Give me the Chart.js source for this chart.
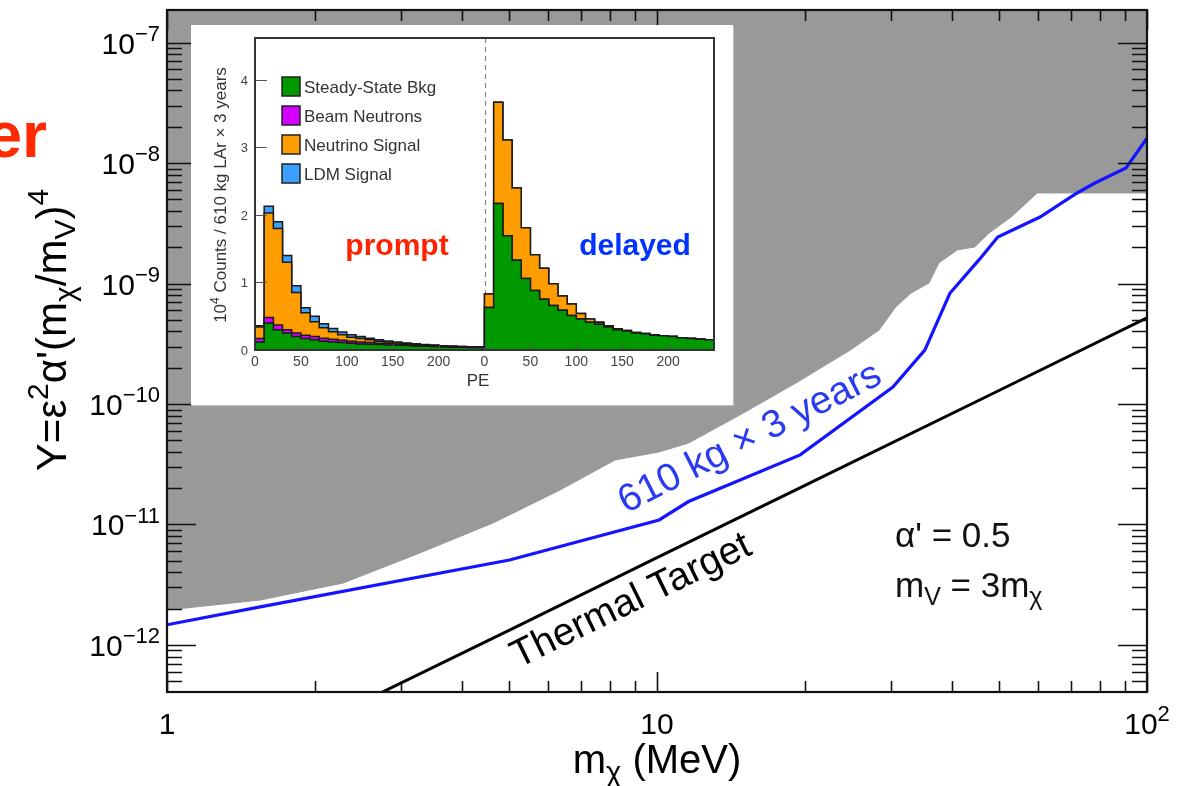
<!DOCTYPE html>
<html>
<head>
<meta charset="utf-8">
<script src="https://cdn.jsdelivr.net/npm/chart.js@4.4.1/dist/chart.umd.min.js"></script>
<style>
  html, body { margin: 0; padding: 0; background: #fff; }
  #wrap { position: relative; width: 1179px; height: 786px; overflow: hidden; }
  #main { position: absolute; left: 0; top: 0; }
  #inset { position: absolute; left: 191px; top: 25px; background: #fff; box-shadow: 1px 1px 1px #bbb; }
</style>
</head>
<body>
<div id="wrap">
  <canvas id="main" width="1179" height="786"></canvas>
  <canvas id="inset" width="542" height="380"></canvas>
</div>
<script>
const FONT = '"Liberation Sans", Arial, Helvetica, sans-serif';

// ---- main plot data (m_chi in MeV, Y) ----
// lower edge of the grey excluded region
const excludedMass = [1, 1.55, 2.29, 3.28, 4.63, 6.34, 8.21, 10.1, 11.6, 15.0, 19.2, 24.8, 28.4, 30.7, 33.0, 35.9, 37.6, 41.0, 44.5, 47.6, 52.8, 59.7, 100];
const excludedY = [1.95e-12, 2.36e-12, 3.27e-12, 5.8e-12, 1.03e-11, 1.93e-11, 3.43e-11, 4.0e-11, 4.74e-11, 8.4e-11, 1.49e-10, 2.8e-10, 4.11e-10, 6.38e-10, 8.34e-10, 1.01e-9, 1.48e-9, 1.9e-9, 2.01e-9, 2.62e-9, 3.56e-9, 5.64e-9, 5.64e-9];

// 610 kg x 3 years sensitivity
const reachMass = [1, 1.55, 5.0, 10.1, 11.6, 19.6, 30.3, 35.2, 39.6, 45.4, 49.6, 60.5, 72, 78.3, 90.6, 100];
const reachY = [1.47e-12, 2.07e-12, 5.07e-12, 1.09e-11, 1.55e-11, 3.78e-11, 1.38e-10, 2.8e-10, 8.3e-10, 1.57e-9, 2.43e-9, 3.56e-9, 5.64e-9, 6.82e-9, 9.1e-9, 1.61e-8];

// thermal relic target
const thermalMass = [2.5, 5, 10, 20, 50, 100];
const thermalY = [3.36e-13, 1.33e-12, 5.3e-12, 2.1e-11, 1.3e-10, 5.18e-10];

const xTickValues = [1, 10, 100];
const xTickLabels = ['1', '10', '10^2'];
const yTickValues = [1e-12, 1e-11, 1e-10, 1e-9, 1e-8, 1e-7];
const yTickLabels = ['10^-12', '10^-11', '10^-10', '10^-9', '10^-8', '10^-7'];

// ---- inset histogram (10^4 counts per 10 PE bin) ----
const peLowEdges = [0, 10, 20, 30, 40, 50, 60, 70, 80, 90, 100, 110, 120, 130, 140, 150, 160, 170, 180, 190, 200, 210, 220, 230, 240];
const promptSteady = [0.12, 0.40, 0.30, 0.25, 0.20, 0.17, 0.15, 0.13, 0.12, 0.11, 0.10, 0.09, 0.085, 0.08, 0.075, 0.07, 0.065, 0.06, 0.055, 0.05, 0.045, 0.042, 0.04, 0.038, 0.035];
const promptBeam = [0.05, 0.08, 0.07, 0.05, 0.05, 0.05, 0.05, 0.045, 0.04, 0.035, 0.03, 0.03, 0.025, 0.02, 0.02, 0.015, 0.015, 0.01, 0.01, 0.01, 0.008, 0.007, 0.006, 0.005, 0.005];
const promptNeutrino = [0.17, 1.55, 1.43, 1.00, 0.60, 0.33, 0.22, 0.155, 0.11, 0.08, 0.06, 0.05, 0.04, 0.03, 0.025, 0.02, 0.015, 0.012, 0.01, 0.008, 0.006, 0.005, 0.004, 0.003, 0.003];
const promptLdm = [0.02, 0.10, 0.10, 0.10, 0.10, 0.075, 0.08, 0.06, 0.05, 0.04, 0.035, 0.03, 0.025, 0.02, 0.015, 0.015, 0.01, 0.01, 0.008, 0.006, 0.005, 0.004, 0.003, 0.003, 0.002];
const delayedSteady = [0.63, 2.17, 1.69, 1.33, 1.06, 0.88, 0.75, 0.66, 0.59, 0.51, 0.46, 0.41, 0.38, 0.34, 0.30, 0.28, 0.25, 0.24, 0.22, 0.21, 0.20, 0.18, 0.17, 0.16, 0.15];
const delayedBeam = [0, 0, 0, 0, 0, 0, 0, 0, 0, 0, 0, 0, 0, 0, 0, 0, 0, 0, 0, 0, 0, 0, 0, 0, 0];
const delayedNeutrino = [0.20, 1.50, 1.42, 1.07, 0.75, 0.53, 0.46, 0.32, 0.21, 0.17, 0.08, 0.05, 0.03, 0.02, 0.015, 0.01, 0.01, 0.005, 0.005, 0, 0, 0, 0, 0, 0];
const delayedLdm = [0, 0, 0, 0, 0, 0, 0, 0, 0, 0, 0, 0, 0, 0, 0, 0, 0, 0, 0, 0, 0, 0, 0, 0, 0];
const insetTickValuesX = [0, 50, 100, 150, 200, 250, 300, 350, 400, 450];
const insetTickLabelsX = ['0', '50', '100', '150', '200', '0', '50', '100', '150', '200'];
const insetTickValuesY = [0, 1, 2, 3, 4];
const legendLabels = ['Steady-State Bkg', 'Beam Neutrons', 'Neutrino Signal', 'LDM Signal'];
const legendColors = ['#009a00', '#d400ff', '#ff9c00', '#3a9fff'];

// draw a string made of normal / sup / sub pieces
function drawRich(ctx, parts, x, y, opt) {
  const size = opt.size, weight = opt.weight || 'normal';
  const items = parts.map(([t, k]) => {
    const s = k === 'n' ? size : Math.round(size * 0.72);
    ctx.font = `${weight} ${s}px ${FONT}`;
    return { t, k, s, w: ctx.measureText(t).width };
  });
  const total = items.reduce((acc, it) => acc + it.w, 0);
  let cx = opt.align === 'center' ? x - total / 2 : opt.align === 'right' ? x - total : x;
  ctx.fillStyle = opt.color || '#000';
  ctx.textAlign = 'left';
  ctx.textBaseline = 'alphabetic';
  items.forEach(it => {
    ctx.font = `${weight} ${it.s}px ${FONT}`;
    const dy = it.k === 'sup' ? -size * 0.42 : it.k === 'sub' ? size * 0.22 : 0;
    ctx.fillText(it.t, cx, y + dy);
    cx += it.w;
  });
}

function tickParts(label) {
  const [base, exp] = label.split('^');
  return exp ? [[base, 'n'], [exp.replace('-', '\u2212'), 'sup']] : [[base, 'n']];
}

function rotatedRich(ctx, parts, x, y, deg, opt) {
  ctx.save();
  ctx.translate(x, y);
  ctx.rotate(deg * Math.PI / 180);
  drawRich(ctx, parts, 0, 0, opt);
  ctx.restore();
}

const toPoints = (xs, ys) => xs.map((v, i) => ({ x: v, y: ys[i] }));

const rootAxes = {
  id: 'rootAxes',
  afterDatasetsDraw(chart) {
    const { ctx, chartArea: a, scales: { x, y } } = chart;
    ctx.save();
    ctx.strokeStyle = '#111';
    ctx.lineWidth = 1.6;
    ctx.beginPath();
    for (let e = 0; e <= 2; e++) {
      for (let k = 1; k <= 9; k++) {
        const v = k * Math.pow(10, e);
        if (v > x.max * 1.0001) break;
        const px = Math.round(x.getPixelForValue(v)) + 0.5;
        const len = k === 1 ? 20 : 11;
        ctx.moveTo(px, a.bottom); ctx.lineTo(px, a.bottom - len);
        ctx.moveTo(px, a.top); ctx.lineTo(px, a.top + len);
      }
    }
    for (let e = -13; e <= -7; e++) {
      for (let k = 1; k <= 9; k++) {
        const v = k * Math.pow(10, e);
        if (v < y.min || v > y.max) continue;
        const py = Math.round(y.getPixelForValue(v)) + 0.5;
        const len = k === 1 ? 29 : 15;
        ctx.moveTo(a.left, py); ctx.lineTo(a.left + len, py);
        ctx.moveTo(a.right, py); ctx.lineTo(a.right - len, py);
      }
    }
    ctx.stroke();
    ctx.lineWidth = 2.2;
    ctx.strokeRect(a.left, a.top, a.right - a.left, a.bottom - a.top);
    ctx.restore();
  },
  afterDraw(chart) {
    const { ctx, chartArea: a, scales: { x, y } } = chart;
    ctx.save();
    // tick labels
    xTickValues.forEach((v, i) => {
      drawRich(ctx, tickParts(xTickLabels[i]), x.getPixelForValue(v), a.bottom + 42, { size: 30, align: 'center' });
    });
    yTickValues.forEach((v, i) => {
      drawRich(ctx, tickParts(yTickLabels[i]), a.left - 7, y.getPixelForValue(v) + 11, { size: 30, align: 'right' });
    });
    // axis titles
    drawRich(ctx, [['m', 'n'], ['\u03c7', 'sub'], [' (MeV)', 'n']], 657, 773, { size: 40, align: 'center' });
    rotatedRich(ctx, [['Y=\u03b5', 'n'], ['2', 'sup'], ['\u03b1\'(m', 'n'], ['\u03c7', 'sub'], ['/m', 'n'], ['V', 'sub'], [')', 'n'], ['4', 'sup']],
      66, 330, -90, { size: 42, align: 'center' });
    // curve labels
    rotatedRich(ctx, [['610 kg \u00d7 3 years', 'n']], 755, 448, -27, { size: 39, align: 'center', color: '#2a3af0' });
    rotatedRich(ctx, [['Thermal Target', 'n']], 636, 611, -26, { size: 39, align: 'center', color: '#000' });
    // model parameters
    drawRich(ctx, [['\u03b1\' = 0.5', 'n']], 895, 547, { size: 35, align: 'left', color: '#111' });
    drawRich(ctx, [['m', 'n'], ['V', 'sub'], [' = 3m', 'n'], ['\u03c7', 'sub']], 895, 597, { size: 35, align: 'left', color: '#111' });
    // clipped slide text at the left edge
    drawRich(ctx, [['er', 'n']], 47, 157, { size: 64, align: 'right', weight: 'bold', color: '#ff2a00' });
    ctx.restore();
  }
};

new Chart(document.getElementById('main'), {
  type: 'line',
  data: {
    datasets: [
      { label: '610 kg x 3 years', data: toPoints(reachMass, reachY), borderColor: '#1414ff', borderWidth: 3.2, fill: false, order: 1 },
      { label: 'Thermal Target', data: toPoints(thermalMass, thermalY), borderColor: '#000', borderWidth: 3, fill: false, order: 2 },
      { label: 'Excluded', data: toPoints(excludedMass, excludedY), borderColor: '#999999', borderWidth: 1, backgroundColor: '#999999', fill: 'end', order: 3 }
    ]
  },
  options: {
    responsive: false,
    animation: false,
    layout: { padding: { left: 167, top: 10, right: 32, bottom: 94 } },
    elements: { point: { radius: 0 }, line: { tension: 0 } },
    scales: {
      x: { type: 'logarithmic', min: 1, max: 100, display: false },
      y: { type: 'logarithmic', min: 4.07e-13, max: 1.862e-7, display: false }
    },
    plugins: { legend: { display: false }, tooltip: { enabled: false } }
  },
  plugins: [rootAxes]
});

// ---- inset ----
const binX = peLowEdges.concat(peLowEdges.map(v => v + 250));
const layers = [
  promptSteady.concat(delayedSteady),
  promptBeam.concat(delayedBeam),
  promptNeutrino.concat(delayedNeutrino),
  promptLdm.concat(delayedLdm)
];
let running = binX.map(() => 0);
const stacked = layers.map(layer => {
  running = running.map((v, i) => v + layer[i]);
  return running;
});
const stepPoints = vals => binX.map((v, i) => ({ x: v, y: vals[i] })).concat([{ x: 500, y: vals[vals.length - 1] }]);

const insetAxes = {
  id: 'insetAxes',
  beforeDatasetsDraw(chart) {
    const { ctx, chartArea: a, scales: { x } } = chart;
    const xd = Math.round(x.getPixelForValue(250)) + 0.5;
    ctx.save();
    ctx.setLineDash([5, 4]);
    ctx.strokeStyle = '#888';
    ctx.lineWidth = 1.2;
    ctx.beginPath();
    ctx.moveTo(xd, a.top); ctx.lineTo(xd, a.bottom);
    ctx.stroke();
    ctx.restore();
  },
  afterDraw(chart) {
    const { ctx, chartArea: a, scales: { x, y } } = chart;
    ctx.save();
    ctx.strokeStyle = '#555';
    ctx.lineWidth = 1.2;
    ctx.beginPath();
    insetTickValuesY.forEach(v => {
      const py = Math.round(y.getPixelForValue(v)) + 0.5;
      ctx.moveTo(a.left, py); ctx.lineTo(a.left + 12, py);
    });
    insetTickValuesX.forEach(v => {
      const px = Math.round(x.getPixelForValue(v)) + 0.5;
      ctx.moveTo(px, a.bottom); ctx.lineTo(px, a.bottom - 6);
    });
    ctx.stroke();
    ctx.strokeStyle = '#333';
    ctx.lineWidth = 2;
    ctx.strokeRect(a.left, a.top, a.right - a.left, a.bottom - a.top);
    // tick labels
    insetTickValuesY.forEach(v => {
      drawRich(ctx, [[String(v), 'n']], a.left - 7, y.getPixelForValue(v) + 5, { size: 13, align: 'right', color: '#444' });
    });
    insetTickValuesX.forEach((v, i) => {
      drawRich(ctx, [[insetTickLabelsX[i], 'n']], x.getPixelForValue(v), a.bottom + 16, { size: 14, align: 'center', color: '#444' });
    });
    drawRich(ctx, [['PE', 'n']], 287, 361, { size: 17, align: 'center', color: '#333' });
    rotatedRich(ctx, [['10', 'n'], ['4', 'sup'], [' Counts / 610 kg LAr \u00d7 3 years', 'n']], 35, 170, -90, { size: 17, align: 'center', color: '#333' });
    // legend
    legendLabels.forEach((lab, i) => {
      const ty = 52 + i * 29;
      ctx.fillStyle = legendColors[i];
      ctx.fillRect(91, ty, 18, 19);
      ctx.strokeStyle = '#222';
      ctx.lineWidth = 1.5;
      ctx.strokeRect(91, ty, 18, 19);
      drawRich(ctx, [[lab, 'n']], 113, ty + 16, { size: 17, align: 'left', color: '#333' });
    });
    drawRich(ctx, [['prompt', 'n']], 206, 230, { size: 30, align: 'center', weight: 'bold', color: '#ff2200' });
    drawRich(ctx, [['delayed', 'n']], 444, 230, { size: 30, align: 'center', weight: 'bold', color: '#0033ff' });
    ctx.restore();
  }
};

new Chart(document.getElementById('inset'), {
  type: 'line',
  data: {
    datasets: legendLabels.map((lab, i) => ({
      label: lab,
      data: stepPoints(stacked[i]),
      stepped: true,
      borderColor: '#1a1a1a',
      borderWidth: 1.5,
      backgroundColor: legendColors[i],
      fill: i === 0 ? 'origin' : '-1'
    }))
  },
  options: {
    responsive: false,
    animation: false,
    layout: { padding: { left: 64, top: 13, right: 19, bottom: 55 } },
    elements: { point: { radius: 0 } },
    scales: {
      x: { type: 'linear', min: 0, max: 500, display: false },
      y: { type: 'linear', min: 0, max: 4.62, display: false }
    },
    plugins: { legend: { display: false }, tooltip: { enabled: false } }
  },
  plugins: [insetAxes]
});
</script>
</body>
</html>
